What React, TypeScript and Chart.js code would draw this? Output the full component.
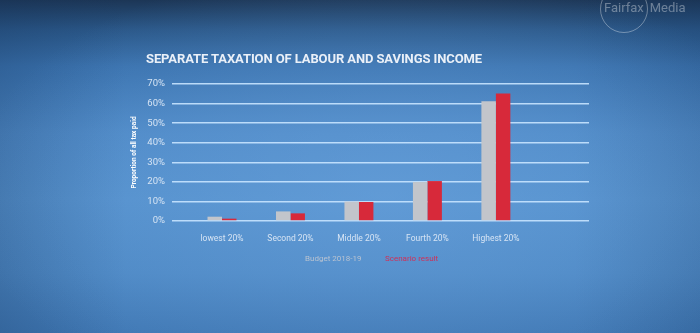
import React, { useEffect, useRef } from 'react';
import { Chart, registerables } from 'chart.js';

Chart.register(...registerables);

// Income quintiles and each group's share of all tax paid (%)
const categories = ['lowest 20%', 'Second 20%', 'Middle 20%', 'Fourth 20%', 'Highest 20%'];
const budgetShares = [2.2, 4.9, 9.9, 19.9, 61.2];
const scenarioShares = [1.2, 3.9, 9.7, 20.4, 65.1];
const seriesNames = ['Budget 2018-19', 'Scenario result'];
const yTickValues = [0, 10, 20, 30, 40, 50, 60, 70];

const chartTitle = 'SEPARATE TAXATION OF LABOUR AND SAVINGS INCOME';
const yAxisTitle = 'Proportion of all tax paid';

const GREY = '#c2c5cb';
const RED = '#d7293a';

export default function App() {
  const canvasRef = useRef<HTMLCanvasElement | null>(null);

  useEffect(() => {
    const canvas = canvasRef.current;
    if (!canvas) return;
    const chart = new Chart(canvas, {
      type: 'bar',
      data: {
        datasets: [
          {
            label: seriesNames[0],
            data: budgetShares.map((y, i) => ({ x: i, y })),
            backgroundColor: GREY,
            borderWidth: 0,
          },
          {
            label: seriesNames[1],
            data: scenarioShares.map((y, i) => ({ x: i, y })),
            backgroundColor: RED,
            borderWidth: 0,
          },
        ],
      },
      options: {
        responsive: false,
        animation: false,
        devicePixelRatio: 1,
        categoryPercentage: 0.423,
        barPercentage: 1,
        layout: { padding: { left: 126, right: 111, top: 84, bottom: 82 } },
        plugins: {
          legend: { display: false },
          tooltip: { enabled: false },
          title: { display: false },
        },
        scales: {
          x: {
            type: 'linear',
            offset: false,
            min: -0.73,
            max: 5.36,
            afterBuildTicks: (scale: any) => {
              scale.ticks = categories.map((_, i) => ({ value: i }));
            },
            afterFit: (scale: any) => {
              scale.height = 30;
            },
            grid: { display: false, offset: false },
            border: { display: false },
            ticks: {
              autoSkip: false,
              maxRotation: 0,
              padding: 5,
              color: '#d6e4f4',
              font: { family: 'Roboto', size: 8.5 },
              callback: (v: any) => categories[v as number] ?? '',
            },
          },
          y: {
            min: 0,
            max: 70,
            afterBuildTicks: (scale: any) => {
              scale.ticks = yTickValues.map((value) => ({ value }));
            },
            afterFit: (scale: any) => {
              scale.width = 46;
            },
            grid: {
              color: 'rgba(200,228,255,0.9)',
              lineWidth: 1.5,
              drawTicks: false,
            },
            border: { display: false },
            ticks: {
              padding: 7,
              color: '#d6e4f4',
              font: { family: 'Roboto', size: 9.5 },
              callback: (v: any) => `${v}%`,
            },
            title: {
              display: true,
              text: yAxisTitle,
              color: '#ffffff',
              font: { family: 'Roboto', size: 6.5, weight: 'bold' },
              padding: { top: 4, bottom: 0 },
            },
          },
        },
      },
    });
    return () => chart.destroy();
  }, []);

  return (
    <div
      style={{
        position: 'fixed',
        left: 0,
        top: 0,
        width: 700,
        height: 333,
        overflow: 'hidden',
        background:
          'radial-gradient(ellipse 60% 70% at 55% 58%, rgba(112,168,226,0.45), rgba(112,168,226,0) 100%),' +
          'linear-gradient(90deg, rgba(20,50,90,0.25) 0%, rgba(20,50,90,0) 18%, rgba(20,50,90,0) 82%, rgba(20,50,90,0.2) 100%),' +
          'linear-gradient(180deg, #1c3656 0%, #2a5788 9%, #3a72ae 20%, #4e89c6 40%, #5490cc 60%, #4d88c4 82%, #3f77b3 100%)',
        fontFamily: 'Roboto, sans-serif',
      }}
    >
      <canvas ref={canvasRef} width={700} height={333} style={{ position: 'absolute', left: 0, top: 0 }} />
      <div
        style={{
          position: 'absolute',
          left: 146,
          top: 50,
          fontSize: 13,
          fontWeight: 700,
          letterSpacing: -0.1,
          color: '#eaf0f8',
          whiteSpace: 'nowrap',
          lineHeight: '18px',
        }}
      >
        {chartTitle}
      </div>
      <div
        style={{
          position: 'absolute',
          left: 305,
          top: 253,
          fontSize: 8,
          color: '#b9c3d1',
          whiteSpace: 'nowrap',
          lineHeight: '12px',
        }}
      >
        {seriesNames[0]}
      </div>
      <div
        style={{
          position: 'absolute',
          left: 385,
          top: 253,
          fontSize: 8,
          color: '#cf2f58',
          whiteSpace: 'nowrap',
          lineHeight: '12px',
        }}
      >
        {seriesNames[1]}
      </div>
      <div
        style={{
          position: 'absolute',
          left: 600,
          top: -15,
          width: 46,
          height: 46,
          borderRadius: '50%',
          border: '1px solid rgba(255,255,255,0.35)',
        }}
      />
      <div
        style={{
          position: 'absolute',
          left: 604,
          top: 0,
          fontSize: 13,
          color: 'rgba(255,255,255,0.35)',
          whiteSpace: 'nowrap',
          lineHeight: '16px',
        }}
      >
        Fairfax<span style={{ marginLeft: 6 }}>Media</span>
      </div>
    </div>
  );
}
